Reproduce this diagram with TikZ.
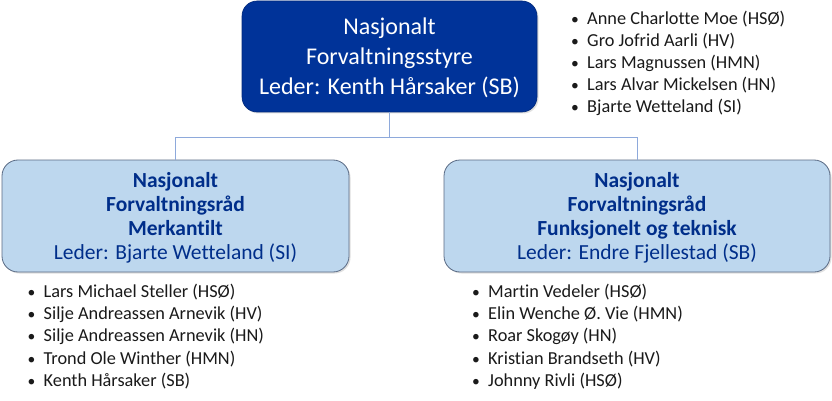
\documentclass[tikz,border=0pt]{standalone}
\usepackage{fontspec}
\setmainfont[Ligatures={NoCommon}]{Carlito}
\usetikzlibrary{shadows}
\definecolor{topblue}{HTML}{003399}
\definecolor{lightfill}{HTML}{BDD7EE}
\definecolor{lightborder}{HTML}{5A6B85}
\definecolor{txtblue}{HTML}{002E8A}
\definecolor{connc}{HTML}{8EA9DB}
\definecolor{listc}{HTML}{1A1A1A}
\newcommand{\bul}{\makebox[16.5pt][l]{\hspace{0.5pt}\scalebox{0.85}{\textbullet}}}
\tikzset{
  topbox/.style={rectangle, rounded corners=15pt, fill=topblue, draw=topblue!80!black, line width=0.6pt,
    text=white, align=center, font=\fontsize{24}{30}\selectfont, inner sep=0pt,
    text height=77pt, text depth=0pt,
    drop shadow={opacity=0.25, shadow xshift=1.5pt, shadow yshift=-1.5pt}},
  subbox/.style={rectangle, rounded corners=16pt, fill=lightfill, draw=lightborder, line width=0.8pt,
    text=txtblue, align=center, font=\fontsize{21.5}{24}\selectfont, inner sep=0pt,
    text height=87pt, text depth=0pt,
    drop shadow={opacity=0.25, shadow xshift=1.5pt, shadow yshift=-1.5pt}},
  conn/.style={draw=connc, line width=0.9pt},
  blist/.style={anchor=north west, align=left, inner sep=0pt, text=listc, font=\fontsize{18.3}{22.2}\selectfont}
}
\begin{document}
\begin{tikzpicture}[x=1pt,y=-1pt]
\useasboundingbox[fill=white] (0,0) rectangle (832,401);
\node[topbox, minimum width=295pt, minimum height=111pt] (top) at (389.5,56.5)
  {Nasjonalt\\Forvaltningsstyre\\Leder: Kenth Hårsaker (SB)};
\node[subbox, minimum width=347pt, minimum height=112pt] (left) at (175.5,216)
  {\textbf{Nasjonalt}\\\textbf{Forvaltningsråd}\\\textbf{Merkantilt}\\Leder: Bjarte Wetteland (SI)};
\node[subbox, minimum width=386pt, minimum height=112pt] (right) at (637,216)
  {\textbf{Nasjonalt}\\\textbf{Forvaltningsråd}\\\textbf{Funksjonelt og teknisk}\\Leder: Endre Fjellestad (SB)};
\coordinate (mid) at (389.5,137);
\draw[conn] (top.south) -- (mid);
\draw[conn] (mid) -| (left.north);
\draw[conn] (mid) -| (right.north);
\node[blist] (toplist) at (570.5,10.5)
  {\bul Anne Charlotte Moe (HSØ)\\\bul Gro Jofrid Aarli (HV)\\\bul Lars Magnussen (HMN)\\\bul Lars Alvar Mickelsen (HN)\\\bul Bjarte Wetteland (SI)};
\node[blist] (leftlist) at (27,284)
  {\bul Lars Michael Steller (HSØ)\\\bul Silje Andreassen Arnevik (HV)\\\bul Silje Andreassen Arnevik (HN)\\\bul Trond Ole Winther (HMN)\\\bul Kenth Hårsaker (SB)};
\node[blist] (rightlist) at (471.5,284)
  {\bul Martin Vedeler (HSØ)\\\bul Elin Wenche Ø. Vie (HMN)\\\bul Roar Skogøy (HN)\\\bul Kristian Brandseth (HV)\\\bul Johnny Rivli (HSØ)};
\end{tikzpicture}
\end{document}
